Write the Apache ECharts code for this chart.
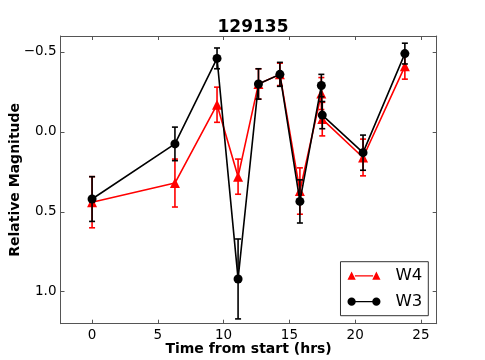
<!DOCTYPE html>
<html>
<head>
<meta charset="utf-8">
<script src="https://cdn.jsdelivr.net/npm/echarts@6/dist/echarts.min.js"></script>
<style>
  html, body { margin: 0; padding: 0; background: #fff; }
  #chart { width: 485px; height: 360px; }
</style>
</head>
<body>
<div id="chart"></div>
<script>
// time of each observation (hrs)
var times = [0, 6.3, 9.5, 11.1, 12.65, 14.28, 15.8, 17.43, 17.5, 20.6, 23.78];
// W4 magnitudes and errors
var w4 = [0.44, 0.32, -0.17, 0.28, -0.30, -0.36, 0.37, -0.24, -0.08, 0.16, -0.41];
var w4Err = [0.16, 0.15, 0.11, 0.11, 0.095, 0.07, 0.145, 0.10, 0.105, 0.115, 0.08];
// W3 magnitudes and errors
var w3 = [0.42, 0.075, -0.46, 0.92, -0.30, -0.36, 0.435, -0.29, -0.105, 0.13, -0.49];
var w3Err = [0.14, 0.105, 0.065, 0.25, 0.095, 0.075, 0.135, 0.07, 0.085, 0.11, 0.065];
// tick labels
var xTicks = [0, 5, 10, 15, 20, 25];
var yTicks = [-0.5, 0, 0.5, 1.0];

var font = 'DejaVu Sans';
var frame = '#555';

function points(vals) {
  return times.map(function (t, i) { return [t, vals[i]]; });
}
function errPoints(vals, errs) {
  return times.map(function (t, i) { return [t, vals[i], errs[i]]; });
}

// vertical error bar with caps
function errorBar(color) {
  return function (params, api) {
    var x = api.value(0), y = api.value(1), e = api.value(2);
    var p1 = api.coord([x, y - e]);
    var p2 = api.coord([x, y + e]);
    var hw = 3;
    var st = { stroke: color, lineWidth: 1.6 };
    return {
      type: 'group',
      children: [
        { type: 'line', shape: { x1: p1[0], y1: p1[1], x2: p2[0], y2: p2[1] }, style: st },
        { type: 'line', shape: { x1: p1[0] - hw, y1: p1[1], x2: p1[0] + hw, y2: p1[1] }, style: st },
        { type: 'line', shape: { x1: p2[0] - hw, y1: p2[1], x2: p2[0] + hw, y2: p2[1] }, style: st }
      ]
    };
  };
}

function yLabel(v) {
  return v < 0 ? '\u2212' + Math.abs(v).toFixed(1) : v.toFixed(1);
}

var triIcon = 'path://M0,10 L5,0 L10,10 Z M9,4.5 L31,4.5 L31,6 L9,6 Z M30,10 L35,0 L40,10 Z';
var dotIcon = 'path://M0,5 A5,5 0 1,1 10,5 A5,5 0 1,1 0,5 Z M9,4.3 L31,4.3 L31,5.7 L9,5.7 Z M30,5 A5,5 0 1,1 40,5 A5,5 0 1,1 30,5 Z';

function frameAxis(extra) {
  var base = {
    type: 'value',
    nameMoveOverlap: false,
    axisLine: { show: true, onZero: false, lineStyle: { color: frame, width: 1 } },
    splitLine: { show: false }
  };
  return Object.assign(base, extra);
}

var chart = echarts.init(document.getElementById('chart'));
chart.setOption({
  animation: false,
  textStyle: { fontFamily: font },
  title: {
    text: '129135',
    left: 248,
    top: 14,
    textAlign: 'center',
    textStyle: { fontFamily: font, fontSize: 17, fontWeight: 'bold', color: '#000' }
  },
  grid: { left: 60.5, right: 48.3, top: 36, bottom: 36.3, containLabel: false, outerBoundsMode: 'none' },
  legend: {
    orient: 'vertical',
    right: 56.7,
    bottom: 44.3,
    backgroundColor: '#fff',
    borderColor: '#333',
    borderWidth: 1,
    borderRadius: 0,
    padding: [5, 6, 5, 7],
    itemWidth: 33,
    itemHeight: 10,
    itemGap: 8,
    textStyle: { fontFamily: font, fontSize: 16.5, color: '#000', lineHeight: 18, padding: [0, 0, 0, 10] },
    data: [
      { name: 'W4', icon: triIcon },
      { name: 'W3', icon: dotIcon }
    ]
  },
  xAxis: [frameAxis({
    min: -2.4,
    max: 26.2,
    name: 'Time from start (hrs)',
    nameLocation: 'middle',
    nameGap: 19,
    nameTextStyle: { fontFamily: font, fontSize: 14, fontWeight: 'bold', color: '#000' },
    axisTick: { show: true, inside: true, length: 4, lineStyle: { color: frame }, customValues: xTicks },
    axisLabel: { fontFamily: font, fontSize: 13.5, color: '#000', margin: 5, customValues: xTicks }
  }), frameAxis({
    position: 'top',
    min: -2.4,
    max: 26.2,
    axisTick: { show: true, inside: true, length: 4, lineStyle: { color: frame }, customValues: xTicks },
    axisLabel: { show: false }
  })],
  yAxis: [frameAxis({
    inverse: true,
    min: -0.6,
    max: 1.2,
    name: 'Relative Magnitude',
    nameLocation: 'middle',
    nameGap: 38,
    nameTextStyle: { fontFamily: font, fontSize: 14, fontWeight: 'bold', color: '#000' },
    axisTick: { show: true, inside: true, length: 4, lineStyle: { color: frame }, customValues: yTicks },
    axisLabel: { fontFamily: font, fontSize: 13.5, color: '#000', margin: 4, customValues: yTicks, formatter: yLabel }
  }), frameAxis({
    position: 'right',
    inverse: true,
    min: -0.6,
    max: 1.2,
    axisTick: { show: true, inside: true, length: 4, lineStyle: { color: frame }, customValues: yTicks },
    axisLabel: { show: false }
  })],
  series: [
    {
      name: 'W4',
      type: 'line',
      data: points(w4),
      symbol: 'triangle',
      symbolSize: 10,
      color: '#ff0000',
      lineStyle: { color: '#ff0000', width: 1.6 },
      itemStyle: { color: '#ff0000' },
      z: 2
    },
    {
      name: 'W4',
      type: 'custom',
      renderItem: errorBar('#ff0000'),
      data: errPoints(w4, w4Err),
      encode: { x: 0, y: 1 },
      z: 2
    },
    {
      name: 'W3',
      type: 'line',
      data: points(w3),
      symbol: 'circle',
      symbolSize: 9,
      color: '#000000',
      lineStyle: { color: '#000000', width: 1.6 },
      itemStyle: { color: '#000000' },
      z: 3
    },
    {
      name: 'W3',
      type: 'custom',
      renderItem: errorBar('#000000'),
      data: errPoints(w3, w3Err),
      encode: { x: 0, y: 1 },
      z: 3
    }
  ]
});
</script>
</body>
</html>
